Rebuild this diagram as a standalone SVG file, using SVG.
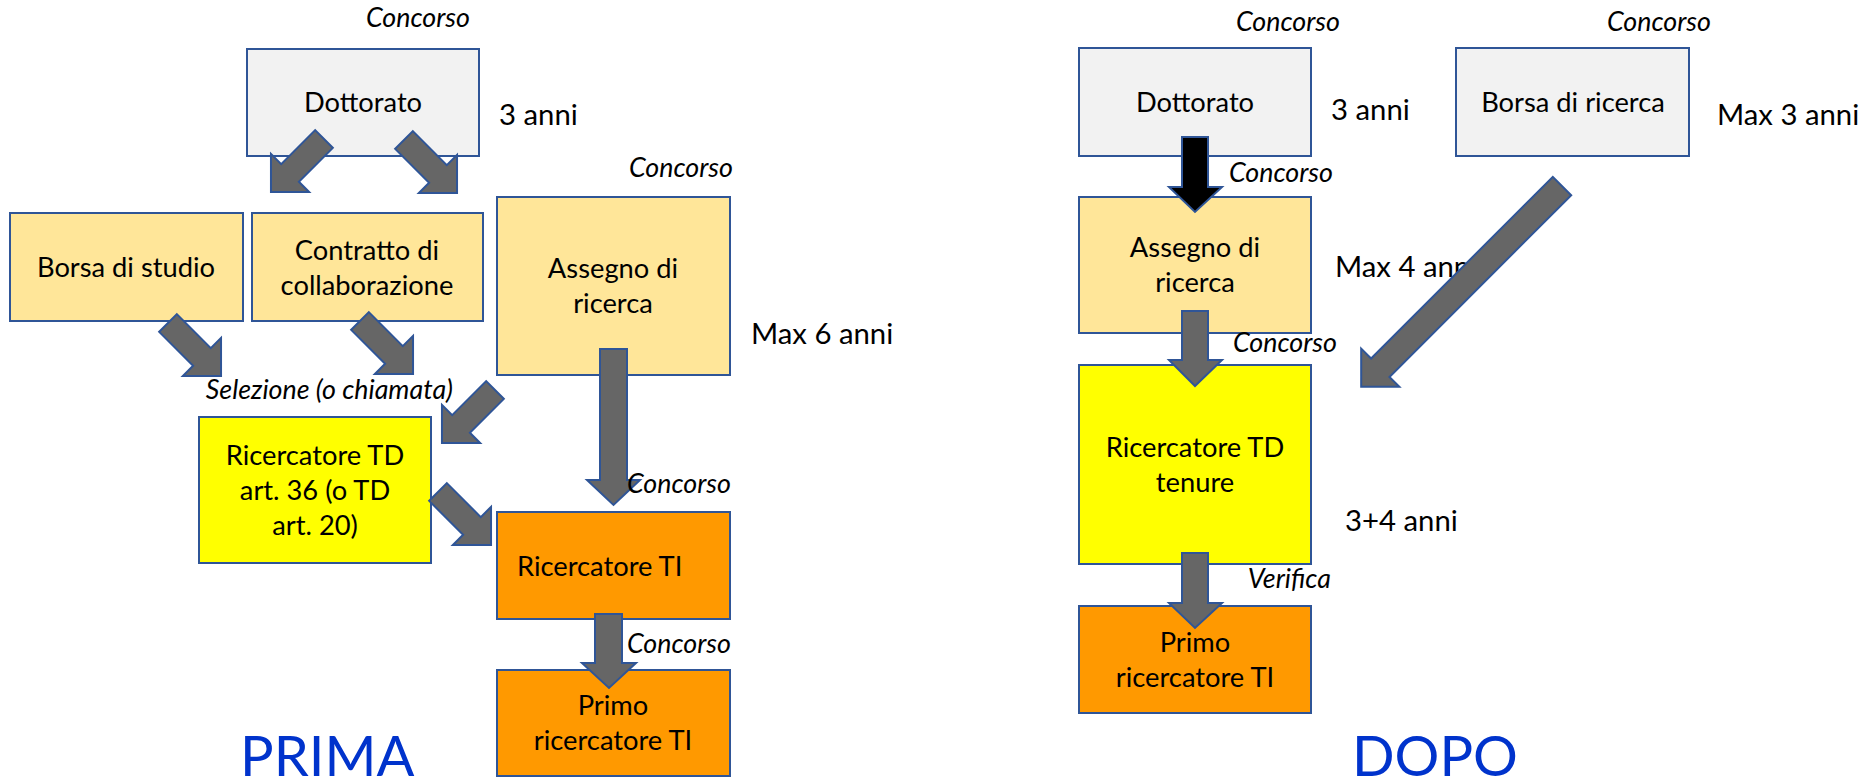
<svg xmlns="http://www.w3.org/2000/svg" xmlns:xlink="http://www.w3.org/1999/xlink" width="1862" height="781" viewBox="0 0 1862 781">
<style>
.box{stroke:#2f5597;stroke-width:2}
.g{fill:#f2f2f2}.y{fill:#ffe699}.yy{fill:#ffff00}.o{fill:#ff9900}
text{font-family:Lato,"Noto Sans",sans-serif;fill:#000}
.t{font-size:27.3px;text-anchor:middle}
.s{font-size:29.3px}
.i{font-style:italic;font-size:26.8px;text-anchor:end}
.arr{fill:#666666;stroke:#2f5597;stroke-width:2}
.blk{fill:#000000;stroke:#2f5597;stroke-width:2}
.big{font-size:56px;fill:#0033cc}
</style>
<defs>
<polygon id="d75" points="0,-12.5 48,-12.5 48,-27 75,0 48,27 48,12.5 0,12.5"/>
</defs>
<rect width="1862" height="781" fill="#ffffff"/>

<g id="n-dottorato-l"><rect class="box g" x="247" y="49" width="232" height="107"/><text class="t" x="363" y="112">Dottorato</text></g>
<g id="n-borsa-studio"><rect class="box y" x="10" y="213" width="233" height="108"/><text class="t" x="126" y="277">Borsa di studio</text></g>
<g id="n-contratto"><rect class="box y" x="252" y="213" width="231" height="108"/><text class="t" x="367" y="260">Contratto di</text><text class="t" x="367" y="295">collaborazione</text></g>
<g id="n-assegno-l"><rect class="box y" x="497" y="197" width="233" height="178"/><text class="t" x="613" y="278">Assegno di</text><text class="t" x="613" y="313">ricerca</text></g>
<g id="n-rtd-l"><rect class="box yy" x="199" y="417" width="232" height="146"/><text class="t" x="315" y="465">Ricercatore TD</text><text class="t" x="315" y="500">art. 36 (o TD</text><text class="t" x="315" y="535">art. 20)</text></g>
<g id="n-rti-l"><rect class="box o" x="497" y="512" width="233" height="107"/><text class="t" x="517" y="576" style="text-anchor:start">Ricercatore TI</text></g>
<g id="n-primo-l"><rect class="box o" x="497" y="670" width="233" height="106"/><text class="t" x="613" y="715">Primo</text><text class="t" x="613" y="750">ricercatore TI</text></g>

<g id="n-dottorato-r"><rect class="box g" x="1079" y="48" width="232" height="108"/><text class="t" x="1195" y="112">Dottorato</text></g>
<g id="n-borsa-ricerca"><rect class="box g" x="1456" y="48" width="233" height="108"/><text class="t" x="1573" y="112">Borsa di ricerca</text></g>
<g id="n-assegno-r"><rect class="box y" x="1079" y="197" width="232" height="136"/><text class="t" x="1195" y="257">Assegno di</text><text class="t" x="1195" y="292">ricerca</text></g>
<g id="n-rtd-r"><rect class="box yy" x="1079" y="365" width="232" height="199"/><text class="t" x="1195" y="457">Ricercatore TD</text><text class="t" x="1195" y="492">tenure</text></g>
<g id="n-primo-r"><rect class="box o" x="1079" y="606" width="232" height="107"/><text class="t" x="1195" y="652">Primo</text><text class="t" x="1195" y="687">ricercatore TI</text></g>

<g id="labels-under">
<text class="s" x="1335" y="277">Max 4 anni</text>
</g>

<g id="connectors">
<use xlink:href="#d75" class="arr" transform="translate(324,139) rotate(135)"/>
<use xlink:href="#d75" class="arr" transform="translate(404,140) rotate(45)"/>
<use xlink:href="#d75" class="arr" transform="translate(168,323) rotate(45)"/>
<use xlink:href="#d75" class="arr" transform="translate(360,321) rotate(45)"/>
<use xlink:href="#d75" class="arr" transform="translate(495,390) rotate(135)"/>
<use xlink:href="#d75" class="arr" transform="translate(438,492) rotate(45)"/>
<polygon class="arr" points="600,349 627,349 627,480 640,480 613.5,505 587,480 600,480"/>
<polygon class="arr" points="595,614 622,614 622,663 636,663 609,688 582,663 595,663"/>
<polygon class="blk" points="1182,137 1208,137 1208,187 1222,187 1195,212 1169,187 1182,187"/>
<polygon class="arr" points="1182,311 1208,311 1208,360 1222,360 1195,386 1169,360 1182,360"/>
<polygon class="arr" points="1182,553 1208,553 1208,603 1222,603 1195,628 1169,603 1182,603"/>
<polygon class="arr" points="0,-13 257,-13 257,-27 284,0 257,27 257,13 0,13" transform="translate(1562,186) rotate(135)"/>
</g>

<g id="labels">
<text class="i" x="470" y="27">Concorso</text>
<text class="s" x="499" y="125">3 anni</text>
<text class="i" x="733" y="177">Concorso</text>
<text class="s" x="751" y="344">Max 6 anni</text>
<text class="i" x="453" y="399">Selezione (o chiamata)</text>
<text class="i" x="731" y="493">Concorso</text>
<text class="i" x="731" y="653">Concorso</text>
<text class="big" x="240" y="776">PRIMA</text>

<text class="i" x="1340" y="31">Concorso</text>
<text class="s" x="1331" y="120">3 anni</text>
<text class="i" x="1711" y="31">Concorso</text>
<text class="s" x="1717" y="125">Max 3 anni</text>
<text class="i" x="1333" y="182">Concorso</text>
<text class="i" x="1337" y="352">Concorso</text>
<text class="s" x="1345" y="531">3+4 anni</text>
<text class="i" x="1331" y="588">Verifica</text>
<text class="big" x="1352" y="776">DOPO</text>
</g>
</svg>
